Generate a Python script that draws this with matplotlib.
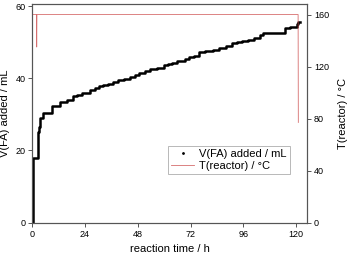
import numpy as np
import matplotlib.pyplot as plt
from matplotlib.lines import Line2D

plt.rcParams['font.family'] = ['Liberation Sans', 'DejaVu Sans']

# V(FA) added (value reached at each time)
time_fa = [0, 0.2, 0.5, 2.4, 3.0, 3.5, 5.0, 9.1, 12.6, 15.6, 18.6, 20.5, 22.4,
           26.2, 28.5, 30.5, 32.3, 34.5, 36.5, 39.2, 41.5, 44.5, 46.5, 48.5,
           51.4, 53.5, 56.7, 59.7, 61.5, 63.5, 66.0, 69.5, 71.5, 73.5, 75.6,
           78.5, 82.4, 85.0, 88.0, 90.8, 93.0, 95.5, 98.3, 101.0, 103.6, 105.0,
           115.0, 117.0, 120.3, 121.0, 121.8]
vol_fa = [0, 9.0, 17.9, 25.2, 26.5, 28.9, 30.5, 32.3, 33.5, 34.0, 35.0, 35.4, 36.0,
          36.8, 37.3, 37.8, 38.1, 38.5, 39.0, 39.5, 39.9, 40.5, 41.0, 41.5,
          42.0, 42.5, 43.0, 43.6, 44.0, 44.4, 44.8, 45.3, 45.8, 46.2, 47.2,
          47.5, 48.0, 48.5, 49.0, 49.7, 50.0, 50.3, 50.6, 51.2, 52.0, 52.5,
          54.0, 54.3, 55.0, 55.5, 55.5]

# reactor temperature
time_t = [0, 1.9, 2.0, 2.1, 120.9, 121.0]
temp_t = [160, 160, 135, 160, 160, 77]

fig = plt.figure(figsize=(3.51, 2.57), dpi=100)
ax = fig.add_axes([0.092, 0.134, 0.783, 0.850])
ax2 = ax.twinx()

ax.step(time_fa, vol_fa, where='post', color='black', lw=1.8)
ax2.plot(time_t, temp_t, color='#cc4a4a', lw=0.6, alpha=0.8)

ax.set_xlim(0, 125)
ax.set_ylim(0, 60.6)
ax2.set_ylim(0, 168)
ax.set_xticks(np.arange(0, 121, 24))
ax.set_yticks([0, 20, 40, 60])
ax2.set_yticks([0, 40, 80, 120, 160])

for a in (ax, ax2):
    a.tick_params(labelsize=6.5, length=3, width=0.7, color='#555555', pad=2)
    for s in a.spines.values():
        s.set_color('#555555')
        s.set_linewidth(0.8)

ax.set_xlabel('reaction time / h', fontsize=8, labelpad=4)
ax.set_ylabel('V(FA) added / mL', fontsize=8, labelpad=4)
ax2.set_ylabel('T(reactor) / °C', fontsize=8, labelpad=6)

handles = [Line2D([], [], ls='none', marker='.', ms=2, color='black'),
           Line2D([], [], color='#cc4a4a', lw=0.6, alpha=0.8)]
leg = ax2.legend(handles, ['V(FA) added / mL', 'T(reactor) / °C'],
                 loc='lower right', bbox_to_anchor=(0.938, 0.223),
                 borderaxespad=0, fontsize=8, fancybox=False,
                 handlelength=2.0, handletextpad=0.5, borderpad=0.3,
                 labelspacing=0.15)
leg.get_frame().set_edgecolor('#999999')
leg.get_frame().set_linewidth(0.6)

fig.savefig('out.png', dpi=100)
